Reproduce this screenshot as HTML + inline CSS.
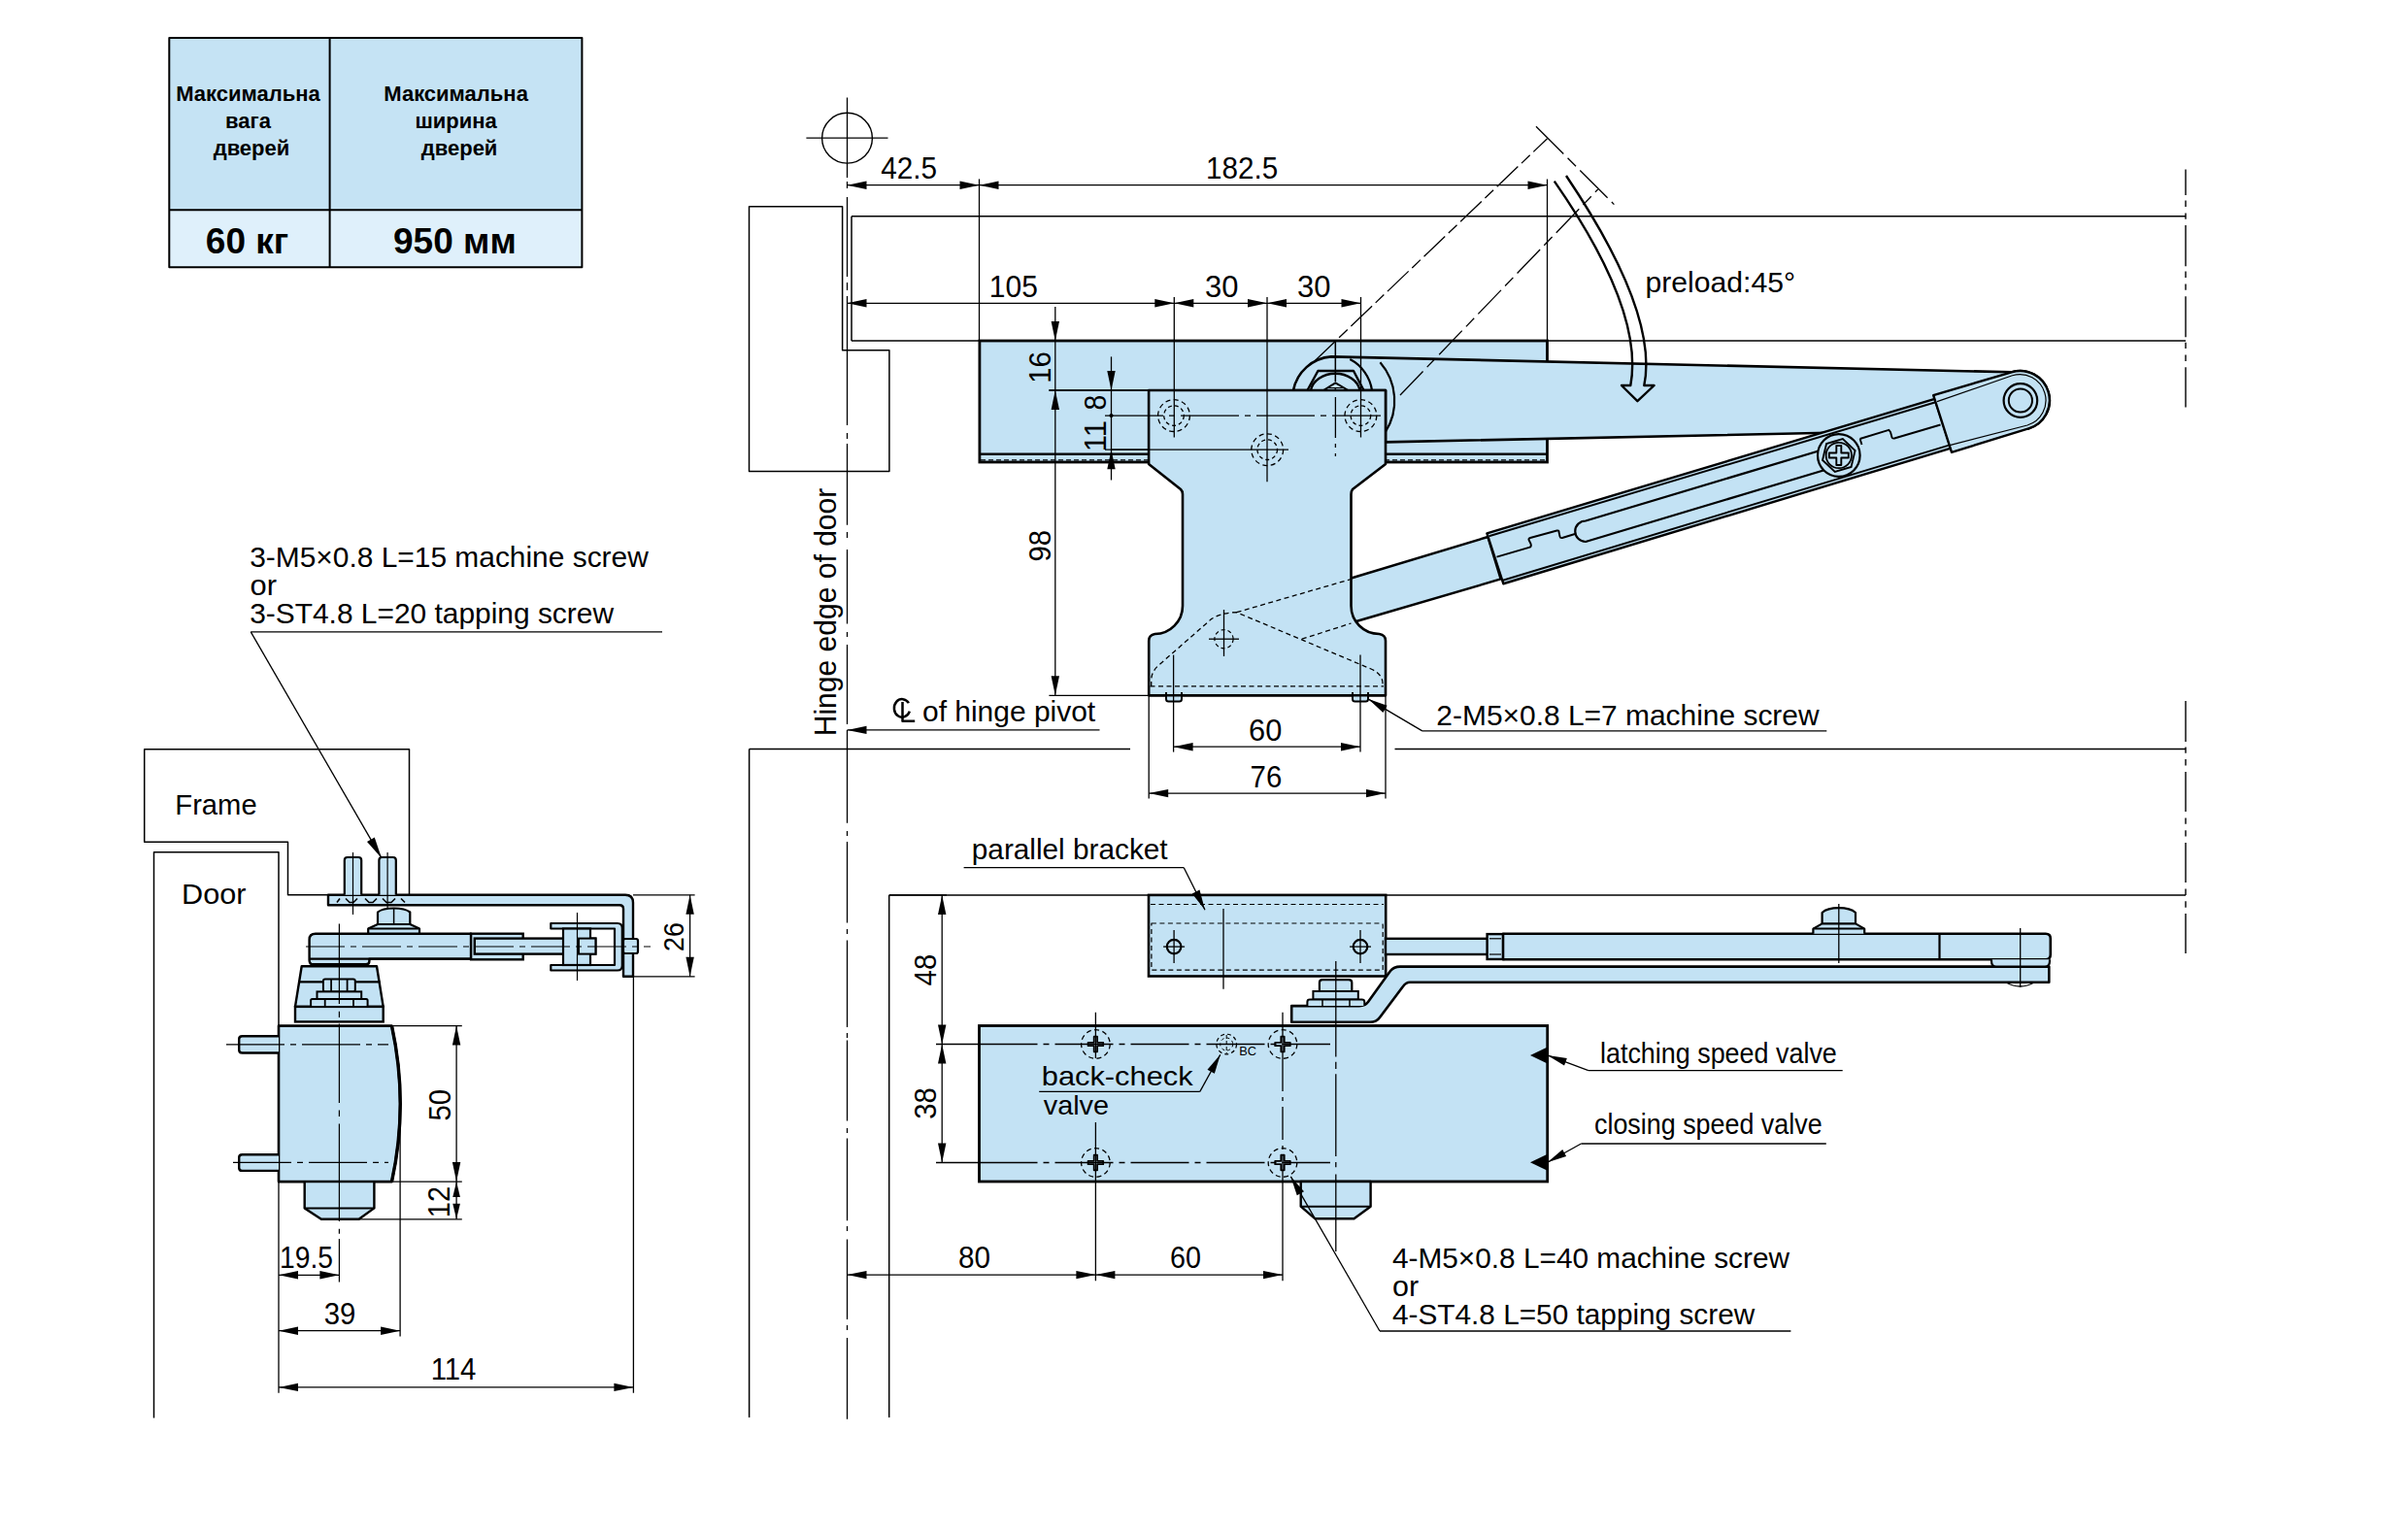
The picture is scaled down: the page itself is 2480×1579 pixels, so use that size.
<!DOCTYPE html>
<html><head><meta charset="utf-8"><style>
html,body{margin:0;padding:0;background:#fff;width:2480px;height:1579px;overflow:hidden}
svg{display:block}
text{font-family:"Liberation Sans",sans-serif;fill:#000}
</style></head><body>
<svg width="2480" height="1579" viewBox="0 0 2480 1579">
<rect width="2480" height="1579" fill="#fff"/>
<rect x="174.3" y="39" width="425.1" height="177.3" fill="#c5e3f4"/>
<rect x="174.3" y="216.3" width="425.1" height="59" fill="#dff0fb"/>
<path d="M174.3,39 H599.4 V275.3 H174.3 Z" fill="none" stroke="#000" stroke-width="2" stroke-linejoin="round"/>
<line x1="339.6" y1="39" x2="339.6" y2="275.3" stroke="#000" stroke-width="2"/>
<line x1="174.3" y1="216.3" x2="599.4" y2="216.3" stroke="#000" stroke-width="2"/>
<text x="255.5" y="103.5" font-size="22" text-anchor="middle" font-weight="700">Максимальна</text>
<text x="255.5" y="131.7" font-size="22" text-anchor="middle" font-weight="700">вага</text>
<text x="259" y="159.9" font-size="22" text-anchor="middle" font-weight="700">дверей</text>
<text x="469.6" y="103.5" font-size="22" text-anchor="middle" font-weight="700">Максимальна</text>
<text x="469.6" y="131.7" font-size="22" text-anchor="middle" font-weight="700">ширина</text>
<text x="473.1" y="159.9" font-size="22" text-anchor="middle" font-weight="700">дверей</text>
<text x="254.5" y="261.2" font-size="37" text-anchor="middle" font-weight="700">60 кг</text>
<text x="468.4" y="261.2" font-size="37" text-anchor="middle" font-weight="700">950 мм</text>
<circle cx="872.5" cy="142.2" r="25.9" fill="none" stroke="#000" stroke-width="1.4"/>
<line x1="830.4" y1="142.2" x2="914.5" y2="142.2" stroke="#000" stroke-width="1.3"/>
<path d="M872.5,100.5 V183 M872.5,187 V194 M872.5,203 V285 M872.5,291 V299 M872.5,305 V438 M872.5,446 V452 M872.5,457 V540.7 M872.5,548 V554 M872.5,566 V642.5 M872.5,651 V656 M872.5,664 V746 M872.5,752 V847.7 M872.5,856 V861 M872.5,867 V950.5 M872.5,957 V962 M872.5,968.6 V1058 M872.5,1064 V1069 M872.5,1071.5 V1154.4 M872.5,1162 V1167 M872.5,1172.6 V1257.3 M872.5,1263 V1268 M872.5,1276.6 V1358.9 M872.5,1365 V1370 M872.5,1378 V1461.7" fill="none" stroke="#000" stroke-width="1.3" stroke-linejoin="round"/>
<path d="M771.5,485.5 V212.8 H867.6 V360.7 H915.9 V485.5 Z" fill="none" stroke="#000" stroke-width="1.5" stroke-linejoin="round"/>
<line x1="877" y1="222.8" x2="2251" y2="222.8" stroke="#000" stroke-width="1.5"/>
<line x1="877" y1="222.8" x2="877" y2="351" stroke="#000" stroke-width="1.5"/>
<line x1="877" y1="351" x2="2251" y2="351" stroke="#000" stroke-width="1.5"/>
<path d="M2251,174.6 V201.1 M2251,206.6 V213 M2251,219.4 V225.8 M2251,232.1 V274.2 M2251,279.6 V286 M2251,292.4 V298.8 M2251,305.2 V347.2 M2251,352.7 V359.1 M2251,365.5 V371.9 M2251,378.3 V419.4" fill="none" stroke="#000" stroke-width="1.4" stroke-linejoin="round"/>
<line x1="872.5" y1="190.7" x2="1593.5" y2="190.7" stroke="#000" stroke-width="1.3"/>
<path d="M872.5,190.7 L892.5,186.5 L892.5,194.9 Z" fill="#000"/>
<path d="M1008.5,190.7 L988.5,194.9 L988.5,186.5 Z" fill="#000"/>
<path d="M1008.5,190.7 L1028.5,186.5 L1028.5,194.9 Z" fill="#000"/>
<path d="M1593.5,190.7 L1573.5,194.9 L1573.5,186.5 Z" fill="#000"/>
<line x1="1008.5" y1="184.4" x2="1008.5" y2="351" stroke="#000" stroke-width="1.3"/>
<line x1="1593.5" y1="184.5" x2="1593.5" y2="351" stroke="#000" stroke-width="1.3"/>
<text x="907.18" y="183.9" font-size="30.5" textLength="57.87" lengthAdjust="spacingAndGlyphs">42.5</text>
<text x="1242.1" y="184" font-size="30.5" textLength="74.13" lengthAdjust="spacingAndGlyphs">182.5</text>
<line x1="872.5" y1="312.3" x2="1401.5" y2="312.3" stroke="#000" stroke-width="1.3"/>
<path d="M872.5,312.3 L892.5,308.1 L892.5,316.5 Z" fill="#000"/>
<path d="M1209.3,312.3 L1189.3,316.5 L1189.3,308.1 Z" fill="#000"/>
<path d="M1209.3,312.3 L1229.3,308.1 L1229.3,316.5 Z" fill="#000"/>
<path d="M1305,312.3 L1285,316.5 L1285,308.1 Z" fill="#000"/>
<path d="M1305,312.3 L1325,308.1 L1325,316.5 Z" fill="#000"/>
<path d="M1401.5,312.3 L1381.5,316.5 L1381.5,308.1 Z" fill="#000"/>
<text x="1018.86" y="305.5" font-size="30.5" textLength="50" lengthAdjust="spacingAndGlyphs">105</text>
<text x="1241.07" y="305.6" font-size="30.5" textLength="34.44" lengthAdjust="spacingAndGlyphs">30</text>
<text x="1336.07" y="305.6" font-size="30.5" textLength="34.44" lengthAdjust="spacingAndGlyphs">30</text>
<rect x="1008.9" y="351" width="584.6" height="125" fill="#c3e2f4" stroke="#000" stroke-width="2.8"/>
<line x1="1008.9" y1="467.7" x2="1593.5" y2="467.7" stroke="#000" stroke-width="2.6"/>
<line x1="1010" y1="473.8" x2="1592" y2="473.8" stroke="#000" stroke-width="1.2" stroke-dasharray="5 3"/>
<line x1="1086.8" y1="316" x2="1086.8" y2="716.3" stroke="#000" stroke-width="1.3"/>
<path d="M1086.8,351 L1082.6,331 L1091,331 Z" fill="#000"/>
<path d="M1086.8,402 L1091,422 L1082.6,422 Z" fill="#000"/>
<path d="M1086.8,716.3 L1082.6,696.3 L1091,696.3 Z" fill="#000"/>
<line x1="1080.4" y1="402" x2="1183" y2="402" stroke="#000" stroke-width="1.3"/>
<line x1="1080.4" y1="716.3" x2="1183" y2="716.3" stroke="#000" stroke-width="1.3"/>
<text transform="translate(1081.7,378.5) rotate(-90)" x="0" y="0" font-size="31" text-anchor="middle" textLength="32.6" lengthAdjust="spacingAndGlyphs">16</text>
<text transform="translate(1081.5,562.3) rotate(-90)" x="0" y="0" font-size="31" text-anchor="middle" textLength="32.6" lengthAdjust="spacingAndGlyphs">98</text>
<line x1="1144.5" y1="367.4" x2="1144.5" y2="494.5" stroke="#000" stroke-width="1.3"/>
<path d="M1144.5,402 L1140.3,382 L1148.7,382 Z" fill="#000"/>
<path d="M1144.5,463.2 L1148.7,483.2 L1140.3,483.2 Z" fill="#000"/>
<circle cx="1144.5" cy="428.1" r="1.8" fill="#000" stroke="#000" stroke-width="0.5"/>
<line x1="1138" y1="463.2" x2="1327" y2="463.2" stroke="#000" stroke-width="1.3"/>
<text transform="translate(1139.4,414.6) rotate(-90)" x="0" y="0" font-size="31" text-anchor="middle" textLength="15.8" lengthAdjust="spacingAndGlyphs">8</text>
<text transform="translate(1138.6,449.1) rotate(-90)" x="0" y="0" font-size="31" text-anchor="middle">11</text>
<path d="M1332,402 A43,43 0 0 1 1371,367.4 L2071.8,383.3 A30,30 0 0 1 2089.2,441.4 L1427,455.4 L1427,402 Z" fill="#c3e2f4" stroke="#000" stroke-width="2.6" stroke-linejoin="round"/>
<path d="M1390.3,370.1 A43,43 0 0 1 1413,402" fill="none" stroke="#000" stroke-width="2.2" stroke-linejoin="round"/>
<path d="M1421.4,373.3 A60,60 0 0 1 1426.8,445" fill="none" stroke="#000" stroke-width="2.2" stroke-linejoin="round"/>
<path d="M1346.5,402 L1357.4,382 L1394,382 L1404.5,402" fill="#c3e2f4" stroke="#000" stroke-width="2.4" stroke-linejoin="round"/>
<path d="M1350,402 A25.5,20 0 0 1 1400.5,402" fill="#c3e2f4" stroke="#000" stroke-width="2.4" stroke-linejoin="round"/>
<path d="M1363,402 L1375.4,394.3 L1388.5,402" fill="none" stroke="#000" stroke-width="2.0" stroke-linejoin="round"/>
<line x1="1368" y1="399.5" x2="1383" y2="399.5" stroke="#000" stroke-width="1"/>
<path d="M1375.4,351 V470" fill="none" stroke="#000" stroke-width="1.3" stroke-dasharray="42 6 4 6" stroke-linejoin="round"/>
<path d="M1385,597.5 L1532.3,553 L1545.6,596.4 L1390,642 Z" fill="#c3e2f4" stroke="#000" stroke-width="2.4" stroke-linejoin="round"/>
<path d="M1531.4,549.28 L1992.6,410.92 L2009.3,461.55 L1548.3,601.24 Z" fill="#c3e2f4" stroke="#000" stroke-width="2.4" stroke-linejoin="round"/>
<line x1="1533.5" y1="552.25" x2="1993.5" y2="414.25" stroke="#000" stroke-width="1.9"/>
<line x1="1547" y1="598.03" x2="2008" y2="458.35" stroke="#000" stroke-width="1.9"/>
<path d="M1991.2,407.2 L2071.8,383.3 A30,30 0 0 1 2089.2,441.4 L2010,465.8 Z" fill="#c3e2f4" stroke="#000" stroke-width="2.4" stroke-linejoin="round"/>
<path d="M1995,413.6 L2072.5,386.8 A26.5,26.5 0 0 1 2088,438 L2008,458.55" fill="none" stroke="#000" stroke-width="1.2" stroke-linejoin="round"/>
<circle cx="2080.9" cy="412.5" r="17.3" fill="#c3e2f4" stroke="#000" stroke-width="2.2"/>
<circle cx="2080.9" cy="412.5" r="12.1" fill="#c3e2f4" stroke="#000" stroke-width="2.0"/>
<path d="M1893.8,458.25 L1633,536.49 A10.3,10.3 0 0 0 1633,557.99 L1893.8,479.75" fill="none" stroke="#000" stroke-width="2.2" stroke-linejoin="round"/>
<path d="M1541.5,573.6 L1575.7,563.6 Q1577.5,562.5 1576.5,560 L1574.5,556 Q1574,554.5 1576,554 L1603.5,546.5 Q1605.5,546 1605.5,548 L1606.5,552.5 Q1607,554.5 1609,554 L1622,550" fill="none" stroke="#000" stroke-width="1.9" stroke-linejoin="round"/>
<path d="M1915.6,452 L1917.5,458 M1915.5,452 L1945.3,442.8 L1947,445 L1948.5,450.5 Q1949,452 1951,451.5 L1998.5,437.5" fill="none" stroke="#000" stroke-width="1.9" stroke-linejoin="round"/>
<circle cx="1893.8" cy="469" r="21.8" fill="#c3e2f4" stroke="#000" stroke-width="2.2"/>
<polygon points="1910.56,463.97 1906.54,481 1889.77,486.03 1877.04,474.03 1881.06,457 1897.83,451.97" fill="#c3e2f4" stroke="#000" stroke-width="1.9"/>
<circle cx="1893.8" cy="469" r="13.2" fill="#c3e2f4" stroke="#000" stroke-width="1.8"/>
<path d="M1891.3,459 H1896.3 V466.5 H1903.8 V471.5 H1896.3 V479 H1891.3 V471.5 H1883.8 V466.5 H1891.3 Z" fill="#c3e2f4" stroke="#000" stroke-width="1.9" stroke-linejoin="round"/>
<path d="M1183.1,402 L1427,402 L1427,478 L1393,504 Q1391.5,506 1391.5,509 L1391.5,624 A29,29 0 0 0 1420.5,653 Q1427,654 1427,660 L1427,716.3 L1183.2,716.3 L1183.2,660 Q1183.2,654 1189.5,653 A29,29 0 0 0 1218,624 L1218,509 Q1218,506 1216,504 L1183.1,478 Z" fill="#c3e2f4" stroke="#000" stroke-width="2.6" stroke-linejoin="round"/>
<circle cx="1209" cy="428.1" r="16.4" fill="none" stroke="#000" stroke-width="1.3" stroke-dasharray="5 3.5"/>
<circle cx="1209" cy="428.1" r="10.3" fill="none" stroke="#000" stroke-width="1.3" stroke-dasharray="4 3"/>
<circle cx="1305.2" cy="463.2" r="16.4" fill="none" stroke="#000" stroke-width="1.3" stroke-dasharray="5 3.5"/>
<circle cx="1305.2" cy="463.2" r="10.3" fill="none" stroke="#000" stroke-width="1.3" stroke-dasharray="4 3"/>
<circle cx="1401.4" cy="428.1" r="16.4" fill="none" stroke="#000" stroke-width="1.3" stroke-dasharray="5 3.5"/>
<circle cx="1401.4" cy="428.1" r="10.3" fill="none" stroke="#000" stroke-width="1.3" stroke-dasharray="4 3"/>
<path d="M1138,428.1 H1422" fill="none" stroke="#000" stroke-width="1.3" stroke-dasharray="60 6 6 6" stroke-linejoin="round"/>
<line x1="1209.3" y1="306" x2="1209.3" y2="450.5" stroke="#000" stroke-width="1.3"/>
<line x1="1305" y1="306" x2="1305" y2="496.3" stroke="#000" stroke-width="1.3"/>
<line x1="1401.5" y1="306" x2="1401.5" y2="450.5" stroke="#000" stroke-width="1.3"/>
<path d="M1185.7,707 V701 Q1185.7,692 1193,685.5 L1247.6,637.6 Q1258,631 1273.6,630.7 L1412,689 Q1424,694.5 1424,704 V707" fill="none" stroke="#000" stroke-width="1.3" stroke-dasharray="5 3.5" stroke-linejoin="round"/>
<path d="M1184.5,706.9 H1425" fill="none" stroke="#000" stroke-width="1.3" stroke-dasharray="5 3.5" stroke-linejoin="round"/>
<path d="M1273.6,630.7 L1391.5,596.5 M1340.8,658.2 L1391.5,642" fill="none" stroke="#000" stroke-width="1.3" stroke-dasharray="5 3.5" stroke-linejoin="round"/>
<circle cx="1260.5" cy="658.2" r="9.6" fill="none" stroke="#000" stroke-width="1.2" stroke-dasharray="4 3"/>
<line x1="1245" y1="658.2" x2="1276" y2="658.2" stroke="#000" stroke-width="1.3"/>
<line x1="1260.5" y1="628" x2="1260.5" y2="676" stroke="#000" stroke-width="1.3"/>
<path d="M1201,713 V720 Q1201,722.5 1203.5,722.5 H1214.5 Q1217,722.5 1217,720 V713" fill="#c3e2f4" stroke="#000" stroke-width="2" stroke-linejoin="round"/>
<path d="M1393,713 V720 Q1393,722.5 1395.5,722.5 H1406.5 Q1409,722.5 1409,720 V713" fill="#c3e2f4" stroke="#000" stroke-width="2" stroke-linejoin="round"/>
<line x1="1183.2" y1="716.3" x2="1427" y2="716.3" stroke="#000" stroke-width="2.6"/>
<line x1="1144.5" y1="463.2" x2="1327" y2="463.2" stroke="#000" stroke-width="1.3"/>
<path d="M1375.4,351 V470" fill="none" stroke="#000" stroke-width="1.3" stroke-dasharray="42 6 4 6" stroke-linejoin="round"/>
<line x1="1080.4" y1="402" x2="1183" y2="402" stroke="#000" stroke-width="1.3"/>
<path d="M1353.8,372 L1593.5,142.8" fill="none" stroke="#000" stroke-width="1.3" stroke-dasharray="30 5 12 5" stroke-linejoin="round"/>
<path d="M1442,407 L1645.7,195" fill="none" stroke="#000" stroke-width="1.3" stroke-dasharray="34 6 12 6" stroke-linejoin="round"/>
<path d="M1582,130.3 L1662.4,210.6" fill="none" stroke="#000" stroke-width="1.3" stroke-dasharray="40 6 12 6" stroke-linejoin="round"/>
<path d="M1600.8,186.6 Q1693.5,319.8 1679.3,397 L1670,397 L1686.4,413.2 L1703.6,397 L1693.3,397 Q1708.4,322.6 1613,181" fill="none" stroke="#000" stroke-width="2.4" stroke-linejoin="round"/>
<text x="1694.56" y="301" font-size="29.5" textLength="154.47" lengthAdjust="spacingAndGlyphs">preload:45°</text>
<text transform="translate(861,630.5) rotate(-90)" x="0" y="0" font-size="31" text-anchor="middle" textLength="255.5" lengthAdjust="spacingAndGlyphs">Hinge edge of door</text>
<path d="M935.9,724.2 A8.2,9.3 0 1 0 936.8,732.6" fill="none" stroke="#000" stroke-width="2.5" stroke-linejoin="round"/>
<path d="M929.5,723 V742.8 H942.2" fill="none" stroke="#000" stroke-width="2.5" stroke-linejoin="round" stroke-linejoin="miter"/>
<text x="949.98" y="743.1" font-size="29.5" textLength="178.22" lengthAdjust="spacingAndGlyphs">of hinge pivot</text>
<line x1="872.5" y1="751.9" x2="1132.5" y2="751.9" stroke="#000" stroke-width="1.3"/>
<path d="M872.5,751.9 L892.5,747.7 L892.5,756.1 Z" fill="#000"/>
<line x1="771.6" y1="771.4" x2="1164" y2="771.4" stroke="#000" stroke-width="1.5"/>
<line x1="1436.5" y1="771.4" x2="2251" y2="771.4" stroke="#000" stroke-width="1.5"/>
<line x1="771.6" y1="771.4" x2="771.6" y2="1460" stroke="#000" stroke-width="1.5"/>
<line x1="915.7" y1="921.9" x2="915.7" y2="1460" stroke="#000" stroke-width="1.5"/>
<line x1="915.7" y1="921.9" x2="2251" y2="921.9" stroke="#000" stroke-width="1.5"/>
<path d="M2251,721.9 V763.9 M2251,769.4 V775.8 M2251,782.1 V788.5 M2251,794.9 V836 M2251,842.4 V848.8 M2251,855.2 V861.6 M2251,868 V909.1 M2251,915.5 V921.9 M2251,928.3 V934.7 M2251,941 V982.1" fill="none" stroke="#000" stroke-width="1.4" stroke-linejoin="round"/>
<line x1="1208.6" y1="674.6" x2="1208.6" y2="774.6" stroke="#000" stroke-width="1.3"/>
<line x1="1401" y1="674.6" x2="1401" y2="774.6" stroke="#000" stroke-width="1.3"/>
<line x1="1183.2" y1="716.3" x2="1183.2" y2="822.6" stroke="#000" stroke-width="1.3"/>
<line x1="1427" y1="716.3" x2="1427" y2="822.6" stroke="#000" stroke-width="1.3"/>
<line x1="1208.6" y1="769.2" x2="1401" y2="769.2" stroke="#000" stroke-width="1.3"/>
<path d="M1208.6,769.2 L1228.6,765 L1228.6,773.4 Z" fill="#000"/>
<path d="M1401,769.2 L1381,773.4 L1381,765 Z" fill="#000"/>
<line x1="1183.2" y1="817.1" x2="1427" y2="817.1" stroke="#000" stroke-width="1.3"/>
<path d="M1183.2,817.1 L1203.2,812.9 L1203.2,821.3 Z" fill="#000"/>
<path d="M1427,817.1 L1407,821.3 L1407,812.9 Z" fill="#000"/>
<text x="1286.05" y="762.6" font-size="30.5" textLength="34.23" lengthAdjust="spacingAndGlyphs">60</text>
<text x="1287.62" y="810.6" font-size="30.5" textLength="32.68" lengthAdjust="spacingAndGlyphs">76</text>
<line x1="1409.3" y1="720.1" x2="1464.8" y2="752.9" stroke="#000" stroke-width="1.3"/>
<line x1="1464.8" y1="752.9" x2="1881.3" y2="752.9" stroke="#000" stroke-width="1.3"/>
<path d="M1409.3,720.1 L1428.66,726.64 L1424.4,733.88 Z" fill="#000"/>
<text x="1479.39" y="746.5" font-size="29.5" textLength="394.21" lengthAdjust="spacingAndGlyphs">2-M5×0.8 L=7 machine screw</text>
<text x="257.19" y="584.4" font-size="29.5" textLength="410.61" lengthAdjust="spacingAndGlyphs">3-M5×0.8 L=15 machine screw</text>
<text x="257.54" y="612.8" font-size="29.5" textLength="27.46" lengthAdjust="spacingAndGlyphs">or</text>
<text x="257.19" y="641.7" font-size="29.5" textLength="374.81" lengthAdjust="spacingAndGlyphs">3-ST4.8 L=20 tapping screw</text>
<line x1="258.3" y1="650.9" x2="682" y2="650.9" stroke="#000" stroke-width="1.3"/>
<line x1="258.3" y1="650.9" x2="392.9" y2="883.7" stroke="#000" stroke-width="1.3"/>
<path d="M392.9,883.7 L377.99,866.91 L385.78,862.4 Z" fill="#000"/>
<path d="M421.5,921.8 V771.7 H148.7 V867.2 H296.5 V921.8 H338" fill="none" stroke="#000" stroke-width="1.5" stroke-linejoin="round"/>
<text x="180.31" y="838.9" font-size="29.5" textLength="84.33" lengthAdjust="spacingAndGlyphs">Frame</text>
<path d="M158.5,1460.5 V877.7 H287 V1056.6" fill="none" stroke="#000" stroke-width="1.5" stroke-linejoin="round"/>
<text x="187.08" y="930.5" font-size="29.5" textLength="66.37" lengthAdjust="spacingAndGlyphs">Door</text>
<path d="M338,921.8 L644,921.8 Q652,921.8 652,929.8 L652,1005.8 L642,1005.8 L642,936 Q642,932.3 638,932.3 L338,932.3 Z" fill="#c3e2f4" stroke="#000" stroke-width="2.4" stroke-linejoin="round"/>
<path d="M347,929.5 L350,925.5 M356,925.5 L360,929.5 L364,929.5 L368,925.5 M376,925.5 L380,929.5 L384,929.5 L388,925.5 M394,925.5 L398,929.5 L403,929.5 L407,925.5 M413,925.5 L417,929.5" fill="none" stroke="#000" stroke-width="1.6" stroke-linejoin="round"/>
<path d="M354.8,921.8 V886 Q354.8,883 357.8,883 H369.2 Q372.2,883 372.2,886 V921.8" fill="#c3e2f4" stroke="#000" stroke-width="2.2" stroke-linejoin="round"/>
<line x1="363.5" y1="878" x2="363.5" y2="942" stroke="#000" stroke-width="1.2"/>
<path d="M390.40000000000003,921.8 V886 Q390.40000000000003,883 393.40000000000003,883 H404.8 Q407.8,883 407.8,886 V921.8" fill="#c3e2f4" stroke="#000" stroke-width="2.2" stroke-linejoin="round"/>
<line x1="399.1" y1="878" x2="399.1" y2="942" stroke="#000" stroke-width="1.2"/>
<path d="M389,952 V939.5 Q394,935.5 405.6,935.5 Q417,935.5 422.3,939.5 V952" fill="#c3e2f4" stroke="#000" stroke-width="2.2" stroke-linejoin="round"/>
<line x1="405.6" y1="936" x2="405.6" y2="952" stroke="#000" stroke-width="1.5"/>
<path d="M379.2,961.7 V956.5 L389,952 H422.3 L432,956.5 V961.7" fill="#c3e2f4" stroke="#000" stroke-width="2.2" stroke-linejoin="round"/>
<line x1="379.2" y1="956.5" x2="432" y2="956.5" stroke="#000" stroke-width="2"/>
<path d="M380.4,987.6 V990 Q380.4,993.3 377,993.3 H322.5 Q318.6,993.3 318.6,989 V967.7 Q318.6,961.7 325,961.7 H485.1 V987.6 Z" fill="#c3e2f4" stroke="#000" stroke-width="2.4" stroke-linejoin="round"/>
<line x1="318.6" y1="987.6" x2="485.1" y2="987.6" stroke="#000" stroke-width="2.4"/>
<rect x="485.1" y="961.7" width="53.6" height="26.6" fill="#c3e2f4" stroke="#000" stroke-width="2.4"/>
<rect x="488.8" y="966.6" width="124.6" height="16" fill="#c3e2f4" stroke="#000" stroke-width="2.4"/>
<path d="M567.3,951 H636 Q640.8,951 640.8,956 V994.5 Q640.8,999.5 636,999.5 H567.3 V994 H633 V956.5 H567.3 Z" fill="#c3e2f4" stroke="#000" stroke-width="2.2" stroke-linejoin="round"/>
<rect x="580" y="956.5" width="28" height="37.5" fill="#c3e2f4" stroke="#000" stroke-width="2.2"/>
<rect x="596" y="966.6" width="17.4" height="16" fill="#c3e2f4" stroke="#000" stroke-width="2.0"/>
<rect x="642" y="967" width="15" height="15" fill="#c3e2f4" stroke="#000" stroke-width="2.2" rx="2"/>
<line x1="315" y1="975" x2="670" y2="975" stroke="#000" stroke-width="1.2" stroke-dasharray="40 6 6 6"/>
<line x1="594.5" y1="940" x2="594.5" y2="1010" stroke="#000" stroke-width="1.2"/>
<line x1="652" y1="921.8" x2="715.6" y2="921.8" stroke="#000" stroke-width="1.3"/>
<line x1="652" y1="1005.8" x2="715.6" y2="1005.8" stroke="#000" stroke-width="1.3"/>
<line x1="710.6" y1="921.8" x2="710.6" y2="1005.8" stroke="#000" stroke-width="1.3"/>
<path d="M710.6,921.8 L714.8,941.8 L706.4,941.8 Z" fill="#000"/>
<path d="M710.6,1005.8 L706.4,985.8 L714.8,985.8 Z" fill="#000"/>
<text transform="translate(704.4,965.1) rotate(-90)" x="0" y="0" font-size="30" text-anchor="middle" textLength="29.8" lengthAdjust="spacingAndGlyphs">26</text>
<path d="M310.7,995.3 H388 L394.7,1036.9 H304 Z" fill="#c3e2f4" stroke="#000" stroke-width="2.4" stroke-linejoin="round"/>
<rect x="304" y="1036.9" width="90.7" height="15.5" fill="#c3e2f4" stroke="#000" stroke-width="2.4"/>
<line x1="307.5" y1="1011.3" x2="391.5" y2="1011.3" stroke="#000" stroke-width="2.2"/>
<rect x="332.9" y="1008.6" width="32.9" height="12.8" fill="#c3e2f4" stroke="#000" stroke-width="2.0" rx="2"/>
<line x1="341.1" y1="1008.6" x2="341.1" y2="1021.4" stroke="#000" stroke-width="1.8"/>
<line x1="357.6" y1="1008.6" x2="357.6" y2="1021.4" stroke="#000" stroke-width="1.8"/>
<rect x="326.5" y="1021.4" width="45.7" height="7.7" fill="#c3e2f4" stroke="#000" stroke-width="2.0"/>
<rect x="320.1" y="1029.1" width="58.5" height="7.8" fill="#c3e2f4" stroke="#000" stroke-width="2.0" rx="1.5"/>
<line x1="334.7" y1="1029.1" x2="334.7" y2="1036.9" stroke="#000" stroke-width="1.8"/>
<line x1="364" y1="1029.1" x2="364" y2="1036.9" stroke="#000" stroke-width="1.8"/>
<path d="M287,1056.6 H403.5 Q421,1137 403.5,1217.1 H287 Z" fill="#c3e2f4" stroke="#000" stroke-width="2.6" stroke-linejoin="round"/>
<path d="M403.5,1056.6 Q421,1137 403.5,1217.1" fill="none" stroke="#000" stroke-width="3.4" stroke-linejoin="round"/>
<path d="M287,1067.3 H249.5 Q246.2,1067.3 246.2,1070.3 V1081.5 Q246.2,1084.5 249.5,1084.5 H287" fill="#c3e2f4" stroke="#000" stroke-width="2.4" stroke-linejoin="round"/>
<path d="M287,1189.3 H249.5 Q246.2,1189.3 246.2,1192.3 V1202.9 Q246.2,1205.9 249.5,1205.9 H287" fill="#c3e2f4" stroke="#000" stroke-width="2.4" stroke-linejoin="round"/>
<line x1="233" y1="1075.9" x2="400" y2="1075.9" stroke="#000" stroke-width="1.2" stroke-dasharray="60 6 6 6"/>
<line x1="240" y1="1197.3" x2="400" y2="1197.3" stroke="#000" stroke-width="1.2" stroke-dasharray="60 6 6 6"/>
<path d="M313.7,1217.1 H385.4 V1244.4 L369.6,1255.8 H330.9 L313.7,1244.4 Z" fill="#c3e2f4" stroke="#000" stroke-width="2.4" stroke-linejoin="round"/>
<line x1="313.7" y1="1244.4" x2="385.4" y2="1244.4" stroke="#000" stroke-width="2.0"/>
<path d="M349.4,951.5 V1034 M349.4,1041.8 V1048 M349.4,1054.5 V1136 M349.4,1143.6 V1150 M349.4,1157.6 V1258 M349.4,1265.7 V1270.8 M349.4,1275.9 V1320.4" fill="none" stroke="#000" stroke-width="1.2" stroke-linejoin="round"/>
<line x1="403.5" y1="1056.6" x2="475.8" y2="1056.6" stroke="#000" stroke-width="1.3"/>
<line x1="403.5" y1="1217.1" x2="475.8" y2="1217.1" stroke="#000" stroke-width="1.3"/>
<line x1="369.6" y1="1255.8" x2="475.8" y2="1255.8" stroke="#000" stroke-width="1.3"/>
<line x1="470.1" y1="1056.6" x2="470.1" y2="1255.8" stroke="#000" stroke-width="1.3"/>
<path d="M470.1,1056.6 L474.3,1076.6 L465.9,1076.6 Z" fill="#000"/>
<path d="M470.1,1217.1 L465.9,1197.1 L474.3,1197.1 Z" fill="#000"/>
<path d="M470.1,1217.1 L473.9,1233.1 L466.3,1233.1 Z" fill="#000"/>
<path d="M470.1,1255.8 L466.3,1239.8 L473.9,1239.8 Z" fill="#000"/>
<text transform="translate(464.3,1138.3) rotate(-90)" x="0" y="0" font-size="31" text-anchor="middle" textLength="32.6" lengthAdjust="spacingAndGlyphs">50</text>
<text transform="translate(462.9,1238) rotate(-90)" x="0" y="0" font-size="31" text-anchor="middle" textLength="32.3" lengthAdjust="spacingAndGlyphs">12</text>
<line x1="287" y1="1217.1" x2="287" y2="1434.7" stroke="#000" stroke-width="1.3"/>
<line x1="412.1" y1="1137" x2="412.1" y2="1376.4" stroke="#000" stroke-width="1.3"/>
<line x1="652.4" y1="1005.8" x2="652.4" y2="1434.7" stroke="#000" stroke-width="1.3"/>
<line x1="287" y1="1313.3" x2="349.4" y2="1313.3" stroke="#000" stroke-width="1.3"/>
<path d="M287,1313.3 L307,1309.1 L307,1317.5 Z" fill="#000"/>
<path d="M349.4,1313.3 L329.4,1317.5 L329.4,1309.1 Z" fill="#000"/>
<line x1="287" y1="1370.7" x2="412.1" y2="1370.7" stroke="#000" stroke-width="1.3"/>
<path d="M287,1370.7 L307,1366.5 L307,1374.9 Z" fill="#000"/>
<path d="M412.1,1370.7 L392.1,1374.9 L392.1,1366.5 Z" fill="#000"/>
<line x1="287" y1="1428.9" x2="652.4" y2="1428.9" stroke="#000" stroke-width="1.3"/>
<path d="M287,1428.9 L307,1424.7 L307,1433.1 Z" fill="#000"/>
<path d="M652.4,1428.9 L632.4,1433.1 L632.4,1424.7 Z" fill="#000"/>
<text x="288.06" y="1305.5" font-size="30.5" textLength="54.98" lengthAdjust="spacingAndGlyphs">19.5</text>
<text x="333.72" y="1363.8" font-size="30.5" textLength="32.61" lengthAdjust="spacingAndGlyphs">39</text>
<text x="443.64" y="1421.2" font-size="30.5" textLength="46.79" lengthAdjust="spacingAndGlyphs">114</text>
<rect x="1183" y="921.9" width="244.2" height="83.6" fill="#c3e2f4" stroke="#000" stroke-width="2.6"/>
<line x1="1185" y1="931.5" x2="1425" y2="931.5" stroke="#000" stroke-width="1.2" stroke-dasharray="5 3.5"/>
<path d="M1185.9,951 H1422 Q1424.2,951 1424.2,953 V999.2 H1185.9 Z" fill="none" stroke="#000" stroke-width="1.2" stroke-dasharray="5 3.5" stroke-linejoin="round"/>
<circle cx="1209.1" cy="975.1" r="7.3" fill="none" stroke="#000" stroke-width="2.2"/>
<line x1="1198.1" y1="975.1" x2="1220.1" y2="975.1" stroke="#000" stroke-width="1.3"/>
<line x1="1209.1" y1="958" x2="1209.1" y2="992" stroke="#000" stroke-width="1.3"/>
<circle cx="1401" cy="975.1" r="7.3" fill="none" stroke="#000" stroke-width="2.2"/>
<line x1="1390" y1="975.1" x2="1412" y2="975.1" stroke="#000" stroke-width="1.3"/>
<line x1="1401" y1="958" x2="1401" y2="992" stroke="#000" stroke-width="1.3"/>
<line x1="1260" y1="935.9" x2="1260" y2="1018.7" stroke="#000" stroke-width="1.3"/>
<text x="1000.79" y="885" font-size="29.5" textLength="201.81" lengthAdjust="spacingAndGlyphs">parallel bracket</text>
<line x1="992.6" y1="893.7" x2="1219.3" y2="893.7" stroke="#000" stroke-width="1.3"/>
<line x1="1219.3" y1="893.7" x2="1241" y2="937.3" stroke="#000" stroke-width="1.3"/>
<path d="M1241,937.3 L1227.79,920.42 L1235.49,916.58 Z" fill="#000"/>
<rect x="1427" y="966.8" width="106" height="16.2" fill="#c3e2f4" stroke="#000" stroke-width="2.4"/>
<rect x="1531.6" y="962.1" width="16.8" height="25.9" fill="#c3e2f4" stroke="#000" stroke-width="2.4"/>
<line x1="1534" y1="966.8" x2="1546" y2="966.8" stroke="#000" stroke-width="1.2"/>
<line x1="1534" y1="983" x2="1546" y2="983" stroke="#000" stroke-width="1.2"/>
<path d="M1548,961.7 H2106.8 Q2111.8,961.7 2111.8,966.7 V983.2 Q2111.8,988.2 2106.8,988.2 H1548 Z" fill="#c3e2f4" stroke="#000" stroke-width="2.6" stroke-linejoin="round"/>
<line x1="1997.5" y1="961.7" x2="1997.5" y2="988.2" stroke="#000" stroke-width="2.2"/>
<path d="M1876.6,951.4 V940 Q1882,935.2 1893.8,935.2 Q1905.6,935.2 1911,940 V951.4" fill="#c3e2f4" stroke="#000" stroke-width="2.2" stroke-linejoin="round"/>
<path d="M1867.4,961.7 V956.6 L1876.6,951.4 H1911 L1920.2,956.6 V961.7" fill="#c3e2f4" stroke="#000" stroke-width="2.2" stroke-linejoin="round"/>
<line x1="1867.4" y1="956.6" x2="1920.2" y2="956.6" stroke="#000" stroke-width="2"/>
<line x1="1893.8" y1="931" x2="1893.8" y2="992" stroke="#000" stroke-width="1.3"/>
<path d="M1330.2,1036.1 H1400 Q1406,1036.1 1409,1032 L1432,1000 Q1435.5,995.6 1442,995.6 H2110.3 V1011.8 H1452 Q1448,1011.8 1445,1016 L1421,1048 Q1417.7,1052.8 1411,1052.8 H1330.2 Z" fill="#c3e2f4" stroke="#000" stroke-width="2.6" stroke-linejoin="round"/>
<path d="M2051,988.2 V990 Q2051,995.6 2056,995.6 H2106 Q2111,995.6 2111,990 V988.2" fill="#c3e2f4" stroke="#000" stroke-width="2.2" stroke-linejoin="round"/>
<path d="M2066,1012 Q2080.7,1020 2095,1012" fill="none" stroke="#000" stroke-width="1.3" stroke-linejoin="round"/>
<line x1="2080.7" y1="956" x2="2080.7" y2="1016.8" stroke="#000" stroke-width="1.3"/>
<path d="M1358.9,1021 V1012 Q1358.9,1009.1 1362,1009.1 H1389 Q1392.3,1009.1 1392.3,1012 V1021" fill="#c3e2f4" stroke="#000" stroke-width="2.2" stroke-linejoin="round"/>
<rect x="1352.4" y="1021" width="46.4" height="8.6" fill="#c3e2f4" stroke="#000" stroke-width="2.0"/>
<path d="M1346.4,1036.1 V1032 Q1346.4,1029.6 1349,1029.6 H1402.5 Q1405.3,1029.6 1405.3,1032 V1036.1" fill="#c3e2f4" stroke="#000" stroke-width="2.0" stroke-linejoin="round"/>
<line x1="1362" y1="1029.6" x2="1362" y2="1036.1" stroke="#000" stroke-width="1.5"/>
<line x1="1390" y1="1029.6" x2="1390" y2="1036.1" stroke="#000" stroke-width="1.5"/>
<rect x="1008.5" y="1056.5" width="585.2" height="160.5" fill="#c3e2f4" stroke="#000" stroke-width="2.8"/>
<path d="M1339.7,1217 H1411.6 V1242.7 L1394.5,1255.3 H1354.5 L1339.7,1242.7 Z" fill="#c3e2f4" stroke="#000" stroke-width="2.4" stroke-linejoin="round"/>
<line x1="1339.7" y1="1242.7" x2="1411.6" y2="1242.7" stroke="#000" stroke-width="2.0"/>
<path d="M1576,1086.9 L1593.7,1078.4 L1593.7,1095.4 Z" fill="#000"/>
<path d="M1576,1197.3 L1593.7,1188.8 L1593.7,1205.8 Z" fill="#000"/>
<circle cx="1128.4" cy="1075.5" r="14.8" fill="none" stroke="#000" stroke-width="1.3" stroke-dasharray="5 3.5"/>
<path d="M1126.7,1067.7 H1130.1000000000001 V1073.8 H1136.2 V1077.2 H1130.1000000000001 V1083.3 H1126.7 V1077.2 H1120.6000000000001 V1073.8 H1126.7 Z" fill="#c3e2f4" stroke="#000" stroke-width="1.8" stroke-linejoin="round" stroke-linejoin="round"/>
<circle cx="1321" cy="1075.5" r="14.8" fill="none" stroke="#000" stroke-width="1.3" stroke-dasharray="5 3.5"/>
<path d="M1319.3,1067.7 H1322.7 V1073.8 H1328.8 V1077.2 H1322.7 V1083.3 H1319.3 V1077.2 H1313.2 V1073.8 H1319.3 Z" fill="#c3e2f4" stroke="#000" stroke-width="1.8" stroke-linejoin="round" stroke-linejoin="round"/>
<circle cx="1128.4" cy="1197.5" r="14.8" fill="none" stroke="#000" stroke-width="1.3" stroke-dasharray="5 3.5"/>
<path d="M1126.7,1189.7 H1130.1000000000001 V1195.8 H1136.2 V1199.2 H1130.1000000000001 V1205.3 H1126.7 V1199.2 H1120.6000000000001 V1195.8 H1126.7 Z" fill="#c3e2f4" stroke="#000" stroke-width="1.8" stroke-linejoin="round" stroke-linejoin="round"/>
<circle cx="1321" cy="1197.5" r="14.8" fill="none" stroke="#000" stroke-width="1.3" stroke-dasharray="5 3.5"/>
<path d="M1319.3,1189.7 H1322.7 V1195.8 H1328.8 V1199.2 H1322.7 V1205.3 H1319.3 V1199.2 H1313.2 V1195.8 H1319.3 Z" fill="#c3e2f4" stroke="#000" stroke-width="1.8" stroke-linejoin="round" stroke-linejoin="round"/>
<circle cx="1263.2" cy="1075.5" r="10.3" fill="none" stroke="#000" stroke-width="1.2" stroke-dasharray="4 3"/>
<circle cx="1263.2" cy="1075.5" r="6.5" fill="none" stroke="#000" stroke-width="1.0" stroke-dasharray="3 3"/>
<path d="M1253,1075.5 H1279 M1263.2,1066 V1085" fill="none" stroke="#000" stroke-width="1.0" stroke-dasharray="4 2" stroke-linejoin="round"/>
<text x="1276.2" y="1086.9" font-size="12.8">BC</text>
<path d="M964,1075.5 H1008.5" fill="none" stroke="#000" stroke-width="1.3" stroke-linejoin="round"/>
<path d="M1008.5,1075.5 H1370" fill="none" stroke="#000" stroke-width="1.3" stroke-dasharray="60 6 6 6" stroke-linejoin="round"/>
<path d="M964,1197.5 H1008.5" fill="none" stroke="#000" stroke-width="1.3" stroke-linejoin="round"/>
<path d="M1008.5,1197.5 H1370" fill="none" stroke="#000" stroke-width="1.3" stroke-dasharray="60 6 6 6" stroke-linejoin="round"/>
<path d="M1128.4,1042.8 V1090 M1128.4,1156 V1319.2" fill="none" stroke="#000" stroke-width="1.3" stroke-linejoin="round"/>
<path d="M1321,1042.8 V1090" fill="none" stroke="#000" stroke-width="1.3" stroke-linejoin="round"/>
<path d="M1321,1090 V1190" fill="none" stroke="#000" stroke-width="1.3" stroke-dasharray="34 6 4 6" stroke-linejoin="round"/>
<path d="M1321,1190 V1319.2" fill="none" stroke="#000" stroke-width="1.3" stroke-linejoin="round"/>
<path d="M1375.8,990 V1088.6 M1375.8,1093.8 V1101 M1375.8,1106.3 V1190.9 M1375.8,1197.1 V1202.3 M1375.8,1209.6 V1289" fill="none" stroke="#000" stroke-width="1.3" stroke-linejoin="round"/>
<line x1="915.7" y1="921.9" x2="975" y2="921.9" stroke="#000" stroke-width="1.3"/>
<line x1="970.2" y1="921.9" x2="970.2" y2="1197.5" stroke="#000" stroke-width="1.3"/>
<path d="M970.2,921.9 L974.4,941.9 L966,941.9 Z" fill="#000"/>
<path d="M970.2,1075.5 L966,1055.5 L974.4,1055.5 Z" fill="#000"/>
<path d="M970.2,1075.5 L974.4,1095.5 L966,1095.5 Z" fill="#000"/>
<path d="M970.2,1197.5 L966,1177.5 L974.4,1177.5 Z" fill="#000"/>
<text transform="translate(964.4,999.1) rotate(-90)" x="0" y="0" font-size="31" text-anchor="middle" textLength="32.6" lengthAdjust="spacingAndGlyphs">48</text>
<text transform="translate(964.4,1136.5) rotate(-90)" x="0" y="0" font-size="31" text-anchor="middle" textLength="32.6" lengthAdjust="spacingAndGlyphs">38</text>
<line x1="872.5" y1="1313.1" x2="1321" y2="1313.1" stroke="#000" stroke-width="1.3"/>
<path d="M872.5,1313.1 L892.5,1308.9 L892.5,1317.3 Z" fill="#000"/>
<path d="M1128.4,1313.1 L1108.4,1317.3 L1108.4,1308.9 Z" fill="#000"/>
<path d="M1128.4,1313.1 L1148.4,1308.9 L1148.4,1317.3 Z" fill="#000"/>
<path d="M1321,1313.1 L1301,1317.3 L1301,1308.9 Z" fill="#000"/>
<text x="987.09" y="1305.7" font-size="30.5" textLength="33.01" lengthAdjust="spacingAndGlyphs">80</text>
<text x="1204.94" y="1305.6" font-size="30.5" textLength="31.94" lengthAdjust="spacingAndGlyphs">60</text>
<text x="1072.78" y="1118.2" font-size="28.5" textLength="155.82" lengthAdjust="spacingAndGlyphs">back-check</text>
<text x="1074.79" y="1148.4" font-size="28.5" textLength="67.23" lengthAdjust="spacingAndGlyphs">valve</text>
<line x1="1070.2" y1="1124.4" x2="1235.8" y2="1124.4" stroke="#000" stroke-width="1.3"/>
<line x1="1235.8" y1="1124.4" x2="1256.8" y2="1086.2" stroke="#000" stroke-width="1.3"/>
<path d="M1256.8,1086.2 L1250.85,1105.75 L1243.48,1101.7 Z" fill="#000"/>
<text x="1647.99" y="1094.7" font-size="29.5" textLength="243.83" lengthAdjust="spacingAndGlyphs">latching speed valve</text>
<line x1="1635.9" y1="1102.6" x2="1897.7" y2="1102.6" stroke="#000" stroke-width="1.3"/>
<line x1="1593.7" y1="1086.9" x2="1635.9" y2="1102.6" stroke="#000" stroke-width="1.3"/>
<path d="M1593.7,1086.9 L1613.84,1090.12 L1611.05,1097.62 Z" fill="#000"/>
<text x="1641.99" y="1167.5" font-size="29.5" textLength="234.63" lengthAdjust="spacingAndGlyphs">closing speed valve</text>
<line x1="1628.4" y1="1178" x2="1880.8" y2="1178" stroke="#000" stroke-width="1.3"/>
<line x1="1593.7" y1="1197.3" x2="1628.4" y2="1178" stroke="#000" stroke-width="1.3"/>
<path d="M1593.7,1197.3 L1609.23,1184.08 L1613.12,1191.07 Z" fill="#000"/>
<text x="1434" y="1306" font-size="29.5" textLength="409" lengthAdjust="spacingAndGlyphs">4-M5×0.8 L=40 machine screw</text>
<text x="1433.96" y="1334.6" font-size="29.5" textLength="27.08" lengthAdjust="spacingAndGlyphs">or</text>
<text x="1434" y="1364" font-size="29.5" textLength="373.2" lengthAdjust="spacingAndGlyphs">4-ST4.8 L=50 tapping screw</text>
<line x1="1421" y1="1371" x2="1844.4" y2="1371" stroke="#000" stroke-width="1.3"/>
<line x1="1421" y1="1371" x2="1329.4" y2="1211.9" stroke="#000" stroke-width="1.3"/>
<path d="M1329.4,1211.9 L1343.02,1227.14 L1335.74,1231.33 Z" fill="#000"/>
</svg></body></html>
